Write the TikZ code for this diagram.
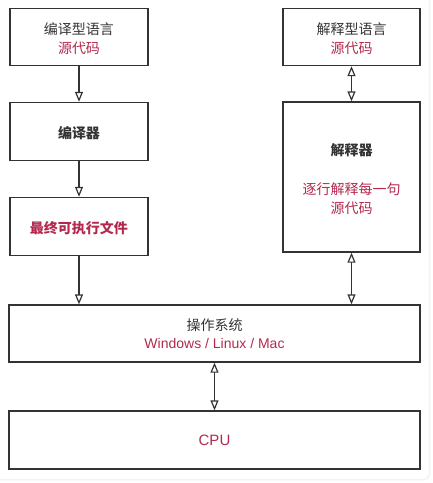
\documentclass[tikz,border=0pt]{standalone}
\usepackage{fontspec}
\setmainfont{Noto Sans CJK SC}
\newfontfamily\latinfont{Liberation Sans}
\usetikzlibrary{arrows.meta}
\definecolor{ink}{HTML}{333333}
\definecolor{redtxt}{HTML}{B3294E}
\tikzset{
  box/.style={draw=ink, line width=1.4pt, rectangle, inner sep=0pt},
  txt/.style={text=ink, font=\fontsize{14}{16}\selectfont, inner sep=0pt},
  rtxt/.style={text=redtxt, font=\fontsize{14}{16}\selectfont, inner sep=0pt},
  tipo/.style={Triangle[open, length=10pt, width=8pt, fill=white]},
  conn/.style={draw=ink, line width=1.2pt, -{Triangle[open, length=10pt, width=8pt, fill=white]}},
  biconn/.style={draw=ink, line width=1.2pt, {Triangle[open, length=10pt, width=8pt, fill=white]}-{Triangle[open, length=10pt, width=8pt, fill=white]}},
}
\begin{document}
\begin{tikzpicture}[x=1pt, y=-1pt]
\useasboundingbox (0,0) rectangle (433,483);
\draw[draw=black!5, line width=1.5pt, rounded corners=6pt] (-10,-10) rectangle (429.5,479.5);
% boxes
\node[box, minimum width=138pt, minimum height=57pt] (src1) at (79,37) {};
\node[box, minimum width=138pt, minimum height=58pt] (comp) at (79,131.5) {};
\node[box, minimum width=138pt, minimum height=58pt] (exe) at (79,226.5) {};
\node[box, minimum width=137pt, minimum height=57pt] (src2) at (351.5,37) {};
\node[box, minimum width=137pt, minimum height=150pt] (interp) at (351.5,177) {};
\node[box, minimum width=411pt, minimum height=57pt] (os) at (214.5,333.5) {};
\node[box, minimum width=411pt, minimum height=58pt] (cpu) at (214.5,440) {};
% texts
\node[txt] (t1a) at (79,29) {编译型语言};
\node[rtxt] (t1b) at (79,48) {源代码};
\node[txt] (t2) at (79,133) {\bfseries 编译器};
\node[rtxt] (t3) at (79,228) {\bfseries 最终可执行文件};
\node[txt] (t4a) at (351.5,29) {解释型语言};
\node[rtxt] (t4b) at (351.5,48) {源代码};
\node[txt] (t5a) at (351.5,150) {\bfseries 解释器};
\node[rtxt] (t5b) at (351.5,189) {逐行解释每一句};
\node[rtxt] (t5c) at (351.5,208) {源代码};
\node[txt] (t6a) at (214.5,325) {操作系统};
\node[rtxt] (t6b) at (214.5,343) {\latinfont\fontsize{14}{16}\selectfont Windows / Linux / Mac};
\node[rtxt] (t7) at (214.5,440) {\latinfont\fontsize{15}{16}\selectfont CPU};
% connectors
\draw[conn] (src1.south) -- (comp.north);
\draw[conn] (comp.south) -- (exe.north);
\draw[conn] (exe.south) -- (exe.south |- os.north);
\draw[biconn] (src2.south) -- (interp.north);
\draw[biconn] (interp.south) -- (interp.south |- os.north);
\draw[biconn] (os.south) -- (cpu.north);
\end{tikzpicture}
\end{document}
